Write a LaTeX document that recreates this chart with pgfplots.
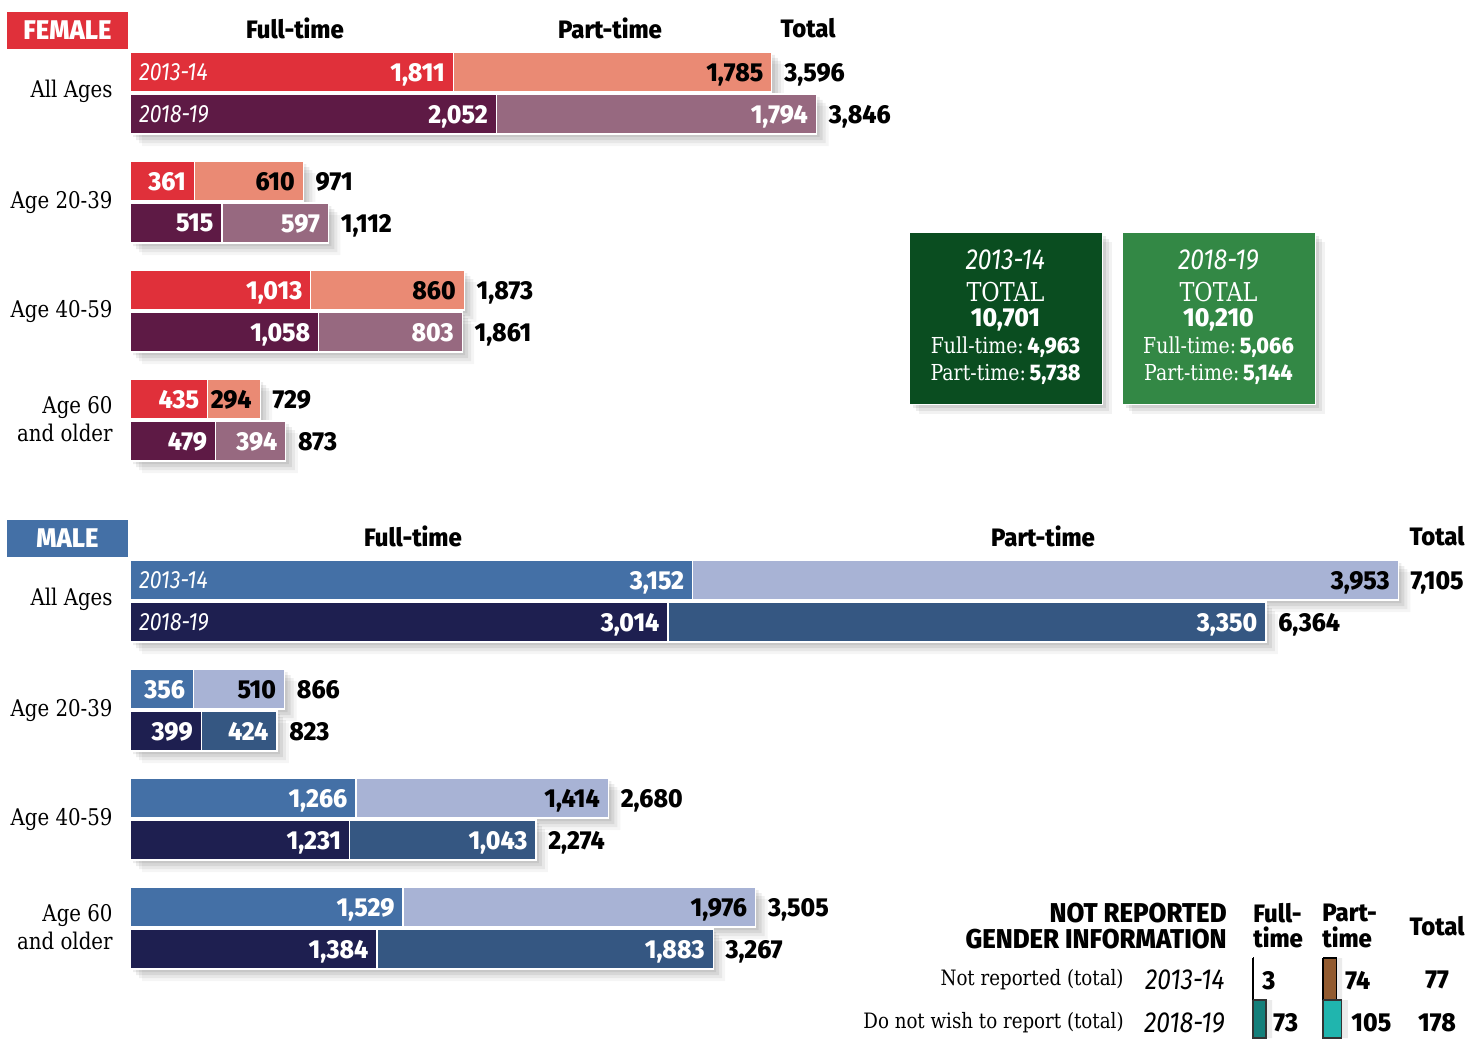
\documentclass[border=0pt]{standalone}
\usepackage{pgfplots}
\pgfplotsset{compat=1.18}
\usepackage{pgfplotstable}
\usepackage{fontspec}
\setmainfont{Fira Sans}
\newfontfamily\numfont[FakeStretch=0.95, BoldFont={Fira Sans ExtraBold}]{Fira Sans}
\newfontfamily\yrfont[FakeStretch=0.85]{Fira Sans}
\newfontfamily\seriffont[FakeStretch=0.86]{DejaVu Serif}

\definecolor{fft}{HTML}{E0303A}
\definecolor{fpt}{HTML}{EA8A74}
\definecolor{gft}{HTML}{5E1A45}
\definecolor{gpt}{HTML}{976980}
\definecolor{mft}{HTML}{4470A6}
\definecolor{mpt}{HTML}{A8B3D5}
\definecolor{nft}{HTML}{1E1F50}
\definecolor{npt}{HTML}{355782}
\definecolor{dgreen}{HTML}{0A4D20}
\definecolor{lgreen}{HTML}{338845}
\definecolor{teal1}{HTML}{147F7A}
\definecolor{brown1}{HTML}{925B30}
\definecolor{turq}{HTML}{20B5AE}

\newcommand{\numstyle}{\fontsize{13}{15}\selectfont\numfont\bfseries}
\newcommand{\hdrstyle}{\fontsize{12.6}{14}\selectfont\numfont\bfseries}
\newcommand{\nrstyle}{\fontsize{13.6}{15}\selectfont\numfont\bfseries}
\newcommand{\catstyle}{\fontsize{11.5}{14}\selectfont\seriffont}
\newcommand{\smcatstyle}{\fontsize{10.6}{13}\selectfont\seriffont}
\newcommand{\yrstyle}{\fontsize{12.5}{14}\selectfont\yrfont\itshape}
\newcommand{\bigyrstyle}{\fontsize{14.5}{16}\selectfont\yrfont\itshape}

% y = pixel row of bar centre; ft, pt, total
\pgfplotstableread{
y ft pt total
72 1811 1785 3596
181 361 610 971
290 1013 860 1873
399 435 294 729
}\femA
\pgfplotstableread{
y ft pt total
114 2052 1794 3846
223 515 597 1112
332 1058 803 1861
441 479 394 873
}\femB
\pgfplotstableread{
y ft pt total
580 3152 3953 7105
689 356 510 866
798 1266 1414 2680
907 1529 1976 3505
}\malA
\pgfplotstableread{
y ft pt total
622 3014 3350 6364
731 399 424 823
840 1231 1043 2274
949 1384 1883 3267
}\malB

\newcommand{\shadowgroup}[1]{%
\addplot[xbar, bar shift=0pt, bar width=20pt, fill=black, fill opacity=0.07, draw=none, xshift=1.5pt, yshift=-1.5pt] table[x=total, y=y]{#1};
\addplot[xbar, bar shift=0pt, bar width=20pt, fill=black, fill opacity=0.07, draw=none, xshift=3pt, yshift=-3pt] table[x=total, y=y]{#1};
\addplot[xbar, bar shift=0pt, bar width=20pt, fill=black, fill opacity=0.06, draw=none, xshift=4.5pt, yshift=-4.5pt] table[x=total, y=y]{#1};
\addplot[xbar, bar shift=0pt, bar width=20pt, fill=black, fill opacity=0.04, draw=none, xshift=6pt, yshift=-6pt] table[x=total, y=y]{#1};
}

\newcommand{\drawgroup}[4]{%
\addplot[xbar, bar shift=0pt, bar width=20pt, fill=#3, draw=white, line width=0.6pt,
  nodes near coords, point meta=explicit,
  every node near coord/.append style={anchor=east, xshift=-4pt, inner sep=0pt, text depth=0pt, text=#4, font=\numstyle}]
  table[x=total, y=y, meta=pt]{#1};
\addplot[xbar, bar shift=0pt, bar width=20pt, fill=#2, draw=white, line width=0.6pt,
  nodes near coords, point meta=explicit,
  every node near coord/.append style={anchor=east, xshift=-4pt, inner sep=0pt, text depth=0pt, text=white, font=\numstyle}]
  table[x=ft, y=y, meta=ft]{#1};
\addplot[xbar, bar shift=0pt, bar width=20pt, draw=none, fill=none,
  nodes near coords, point meta=explicit,
  every node near coord/.append style={anchor=west, xshift=6pt, inner sep=0pt, text depth=0pt, text=black, font=\numstyle}]
  table[x=total, y=y, meta=total]{#1};
}

\newcommand{\catlab}[2]{\node[anchor=east, inner sep=0pt, font=\catstyle, align=right] at (axis cs:-95.2,#1) {#2};}
\newcommand{\greenbox}[6]{%
  \node[fill=black, fill opacity=0.08, minimum width=96.5pt, minimum height=86pt, xshift=2pt, yshift=-2pt] at (axis cs:#1,318) {};
  \node[fill=black, fill opacity=0.07, minimum width=96.5pt, minimum height=86pt, xshift=3.5pt, yshift=-3.5pt] at (axis cs:#1,318) {};
  \node[fill=black, fill opacity=0.05, minimum width=96.5pt, minimum height=86pt, xshift=5pt, yshift=-5pt] at (axis cs:#1,318) {};
  \node[fill=#6, draw=white, line width=0.5pt, minimum width=96.5pt, minimum height=86pt] at (axis cs:#1,318) {};
  \node[text=white, font=\bigyrstyle, text depth=0pt] at (axis cs:#1,260) {#2};
  \node[text=white, font=\fontsize{13}{15}\selectfont\seriffont, text depth=0pt] at (axis cs:#1,292) {TOTAL};
  \node[text=white, font=\numstyle, text depth=0pt] at (axis cs:#1,317) {#3};
  \node[text=white, font=\fontsize{11}{13}\selectfont\seriffont] at (axis cs:#1,347) {Full-time:\,{\fontsize{11.3}{13}\selectfont\numfont\bfseries #4}};
  \node[text=white, font=\fontsize{11}{13}\selectfont\seriffont] at (axis cs:#1,374) {Part-time:\,{\fontsize{11.3}{13}\selectfont\numfont\bfseries #5}};
}

\begin{document}
\begin{tikzpicture}
\begin{axis}[name=ax, scale only axis, width=733pt, height=519pt,
  xmin=-728.29, xmax=7484.59, ymin=0, ymax=1038, y dir=reverse,
  hide axis, clip=false,
  /pgf/number format/assume math mode=true,
  /pgf/number format/1000 sep={,}]

\shadowgroup{\femA}
\shadowgroup{\femB}
\shadowgroup{\malA}
\shadowgroup{\malB}
\drawgroup{\femA}{fft}{fpt}{black}
\drawgroup{\femB}{gft}{gpt}{white}
\drawgroup{\malA}{mft}{mpt}{black}
\drawgroup{\malB}{nft}{npt}{white}

% section labels
\node[fill=fft, minimum width=60.5pt, minimum height=18.5pt, inner sep=0pt, text=white, font=\fontsize{13.5}{15}\selectfont\numfont\bfseries] at (axis cs:-350.1,30.5) {FEMALE};
\node[fill=mft, minimum width=60.5pt, minimum height=18.5pt, inner sep=0pt, text=white, font=\fontsize{13.5}{15}\selectfont\numfont\bfseries] at (axis cs:-350.1,538) {MALE};

\node[font=\hdrstyle] at (axis cs:924.4,28) {Full-time};
\node[font=\hdrstyle] at (axis cs:2689.1,28) {Part-time};
\node[font=\hdrstyle] at (axis cs:3798.3,28) {Total};
\node[font=\hdrstyle] at (axis cs:1585.4,536) {Full-time};
\node[font=\hdrstyle] at (axis cs:5114.8,536) {Part-time};
\node[font=\hdrstyle] at (axis cs:7322.1,536) {Total};

% category labels
\catlab{91}{All Ages}
\catlab{203}{Age 20-39}
\catlab{312}{Age 40-59}
\catlab{419}{Age 60\\and older}
\catlab{599}{All Ages}
\catlab{711}{Age 20-39}
\catlab{820}{Age 40-59}
\catlab{927}{Age 60\\and older}

% year labels
\node[anchor=west, inner sep=0pt, text depth=0pt, text=white, font=\yrstyle] at (axis cs:50.4,72) {2013-14};
\node[anchor=west, inner sep=0pt, text depth=0pt, text=white, font=\yrstyle] at (axis cs:50.4,114) {2018-19};
\node[anchor=west, inner sep=0pt, text depth=0pt, text=white, font=\yrstyle] at (axis cs:50.4,580) {2013-14};
\node[anchor=west, inner sep=0pt, text depth=0pt, text=white, font=\yrstyle] at (axis cs:50.4,622) {2018-19};

% green total boxes
\greenbox{4904.8}{2013-14}{10,701}{4,963}{5,738}{dgreen}
\greenbox{6098.0}{2018-19}{10,210}{5,066}{5,144}{lgreen}

% not reported table
\node[anchor=east, inner sep=0pt, text depth=0pt, font=\nrstyle] at (axis cs:6145.7,913) {NOT REPORTED};
\node[anchor=east, inner sep=0pt, text depth=0pt, font=\nrstyle] at (axis cs:6145.7,939) {GENDER INFORMATION};
\node[anchor=west, inner sep=0pt, font=\hdrstyle] at (axis cs:6291.3,913) {Full-};
\node[anchor=west, inner sep=0pt, font=\hdrstyle] at (axis cs:6291.3,937) {time};
\node[anchor=west, inner sep=0pt, font=\hdrstyle] at (axis cs:6677.8,913) {Part-};
\node[anchor=west, inner sep=0pt, font=\hdrstyle] at (axis cs:6677.8,937) {time};
\node[inner sep=0pt, font=\hdrstyle] at (axis cs:7322.1,926) {Total};

\addplot[fill=black, fill opacity=0.08, draw=none, xshift=3pt] coordinates {(6683.5,958) (6757.5,958) (6757.5,1038) (6683.5,1038) (6683.5,958)};
\addplot[fill=black, fill opacity=0.08, draw=none, xshift=3pt] coordinates {(6683.5,1000) (6788.5,1000) (6788.5,1038) (6683.5,1038) (6683.5,1000)};
\addplot[fill=black, fill opacity=0.08, draw=none, xshift=3pt] coordinates {(6291.3,1000) (6364.3,1000) (6364.3,1038) (6291.3,1038) (6291.3,1000)};
\addplot[fill=brown1, draw=black, line width=0.6pt] coordinates {(6683.5,958) (6757.5,958) (6757.5,1038) (6683.5,1038) (6683.5,958)};
\addplot[fill=turq, draw=black!80, line width=0.6pt] coordinates {(6683.5,1000) (6788.5,1000) (6788.5,1038) (6683.5,1038) (6683.5,1000)};
\addplot[fill=black, draw=black, line width=0.6pt] coordinates {(6291.3,958) (6294.3,958) (6294.3,1038) (6291.3,1038) (6291.3,958)};
\addplot[fill=teal1, draw=black!80, line width=0.6pt] coordinates {(6291.3,1000) (6364.3,1000) (6364.3,1038) (6291.3,1038) (6291.3,1000)};

\node[anchor=east, inner sep=0pt, font=\smcatstyle] at (axis cs:5568.6,980) {Not reported (total)};
\node[anchor=east, inner sep=0pt, font=\smcatstyle] at (axis cs:5568.6,1023) {Do not wish to report (total)};
\node[anchor=east, inner sep=0pt, text depth=0pt, font=\bigyrstyle] at (axis cs:6134.5,980) {2013-14};
\node[anchor=east, inner sep=0pt, text depth=0pt, font=\bigyrstyle] at (axis cs:6134.5,1023) {2018-19};
\node[anchor=west, inner sep=0pt, text depth=0pt, font=\numstyle] at (axis cs:6341.7,980) {3};
\node[anchor=west, inner sep=0pt, text depth=0pt, font=\numstyle] at (axis cs:6806.7,980) {74};
\node[inner sep=0pt, text depth=0pt, font=\numstyle] at (axis cs:7322.1,980) {77};
\node[anchor=west, inner sep=0pt, text depth=0pt, font=\numstyle] at (axis cs:6403.4,1022) {73};
\node[anchor=west, inner sep=0pt, text depth=0pt, font=\numstyle] at (axis cs:6840.3,1022) {105};
\node[inner sep=0pt, text depth=0pt, font=\numstyle] at (axis cs:7322.1,1022) {178};
\end{axis}
\pgfresetboundingbox
\useasboundingbox (ax.south west) rectangle (ax.north east);
\end{tikzpicture}
\end{document}
